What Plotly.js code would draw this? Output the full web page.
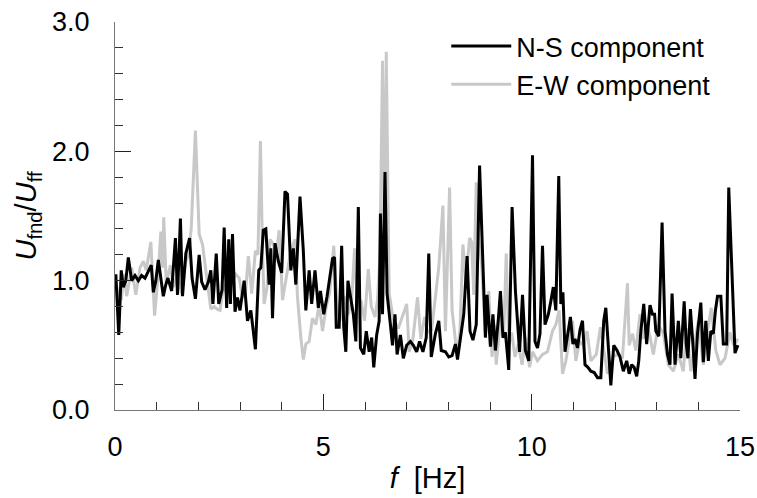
<!DOCTYPE html>
<html>
<head>
<meta charset="utf-8">
<script src="https://cdn.plot.ly/plotly-3.0.1.min.js"></script>
<style>html,body{margin:0;padding:0;background:#fff;}#chart{width:757px;height:498px;}</style>
</head>
<body>
<div id="chart"></div>
<script>
// N-S component
const nsFreq = [0.02,0.09,0.15,0.2,0.26,0.32,0.4,0.48,0.56,0.64,0.72,0.8,0.87,0.92,0.98,1.04,1.1,1.16,1.22,1.27,1.36,1.45,1.5,1.57,1.62,1.7,1.79,1.85,1.93,2.02,2.08,2.16,2.24,2.3,2.35,2.43,2.49,2.57,2.62,2.68,2.73,2.77,2.82,2.88,2.94,3.0,3.1,3.18,3.26,3.37,3.45,3.5,3.56,3.62,3.7,3.74,3.78,3.84,3.92,4.0,4.08,4.14,4.22,4.28,4.34,4.44,4.52,4.58,4.66,4.72,4.8,4.88,4.93,5.01,5.09,5.22,5.27,5.31,5.38,5.44,5.49,5.54,5.59,5.66,5.72,5.78,5.84,5.89,5.97,6.03,6.1,6.16,6.21,6.28,6.34,6.37,6.42,6.48,6.53,6.6,6.66,6.72,6.77,6.85,6.92,7.0,7.09,7.16,7.24,7.31,7.39,7.47,7.53,7.59,7.69,7.77,7.83,7.93,8.01,8.09,8.17,8.22,8.31,8.37,8.45,8.52,8.59,8.67,8.75,8.83,8.89,8.93,9.01,9.07,9.13,9.2,9.25,9.31,9.37,9.45,9.53,9.61,9.71,9.78,9.85,9.93,10.02,10.08,10.14,10.2,10.26,10.32,10.4,10.46,10.52,10.58,10.65,10.7,10.75,10.8,10.87,10.93,10.99,11.04,11.1,11.16,11.22,11.28,11.35,11.42,11.5,11.58,11.66,11.73,11.78,11.84,11.9,11.97,12.05,12.12,12.2,12.28,12.34,12.4,12.46,12.52,12.57,12.62,12.69,12.76,12.84,12.9,12.95,12.98,13.05,13.13,13.2,13.26,13.32,13.37,13.44,13.52,13.58,13.66,13.71,13.75,13.81,13.87,13.92,13.98,14.06,14.12,14.18,14.24,14.3,14.36,14.41,14.46,14.54,14.6,14.68,14.73,14.8,14.88,14.95];
const nsRatio = [1.05,0.58,1.08,0.95,1.0,1.18,1.0,1.04,1.0,1.04,1.02,1.08,1.12,0.91,1.0,1.16,1.0,0.88,0.97,1.02,0.92,1.33,0.89,1.48,0.88,1.21,1.33,1.02,0.86,1.2,0.99,0.93,0.99,1.08,0.82,1.21,0.82,0.93,1.41,0.79,1.32,0.82,1.36,0.76,0.87,0.77,1.0,0.69,0.77,0.47,1.08,1.1,1.39,1.4,0.97,1.25,0.71,1.29,1.15,1.06,1.69,1.67,1.08,1.25,0.97,1.65,1.23,0.77,1.08,0.82,1.08,0.79,0.92,0.74,0.88,1.17,1.18,0.64,0.64,1.27,0.64,0.45,1.0,0.85,0.74,0.53,1.57,0.48,0.43,0.61,0.45,0.56,0.33,0.58,0.69,1.52,0.74,1.84,0.9,0.69,0.5,0.74,0.43,0.58,0.4,0.5,0.53,0.5,0.45,0.53,0.45,0.56,1.21,0.41,0.59,0.69,0.46,0.45,0.41,0.42,0.51,0.39,0.61,0.74,1.19,0.61,0.54,0.66,1.89,1.18,0.56,0.89,0.49,0.74,0.46,0.7,0.92,0.56,0.6,0.31,1.57,0.92,0.45,0.89,0.46,0.38,1.97,0.53,0.48,0.59,1.27,0.66,0.74,0.84,0.95,0.77,1.81,0.82,0.91,0.45,0.59,0.72,0.51,0.55,0.48,0.62,0.69,0.35,0.33,0.3,0.29,0.25,0.25,0.69,0.79,0.48,0.19,0.5,0.46,0.41,0.3,0.38,0.28,0.35,0.33,0.26,0.38,0.61,0.82,0.51,0.81,0.74,0.74,0.61,0.57,1.45,0.61,0.43,0.35,0.9,0.35,0.69,0.4,0.84,0.51,0.4,0.78,0.51,0.24,0.59,0.83,0.37,0.69,0.38,0.61,0.59,0.77,0.88,0.88,0.51,0.51,1.72,1.08,0.44,0.5];

// E-W component
const ewFreq = [0.02,0.08,0.15,0.22,0.28,0.35,0.4,0.5,0.6,0.68,0.75,0.86,0.95,1.03,1.1,1.14,1.17,1.23,1.33,1.4,1.5,1.6,1.7,1.77,1.83,1.93,2.02,2.1,2.2,2.3,2.38,2.45,2.52,2.58,2.66,2.75,2.82,2.9,2.98,3.06,3.13,3.2,3.28,3.37,3.43,3.49,3.54,3.58,3.65,3.72,3.8,3.87,3.94,4.02,4.14,4.22,4.32,4.38,4.46,4.52,4.58,4.66,4.74,4.82,4.9,4.98,5.07,5.15,5.25,5.32,5.4,5.5,5.6,5.68,5.75,5.82,5.9,5.99,6.08,6.15,6.24,6.3,6.36,6.42,6.47,6.51,6.58,6.68,6.8,6.9,7.0,7.06,7.15,7.26,7.34,7.43,7.5,7.6,7.69,7.77,7.87,7.93,8.03,8.09,8.15,8.21,8.28,8.35,8.42,8.51,8.56,8.61,8.67,8.72,8.8,8.89,8.97,9.05,9.1,9.15,9.27,9.33,9.39,9.45,9.52,9.6,9.68,9.77,9.85,9.95,10.02,10.14,10.26,10.38,10.5,10.58,10.66,10.74,10.82,10.9,10.98,11.06,11.15,11.25,11.33,11.42,11.55,11.65,11.73,11.82,11.95,12.05,12.18,12.3,12.34,12.42,12.5,12.6,12.68,12.76,12.84,12.92,13.04,13.16,13.28,13.4,13.52,13.64,13.72,13.82,13.92,14.0,14.12,14.22,14.31,14.42,14.52,14.64,14.76,14.85,14.95];
const ewRatio = [0.98,0.9,0.85,1.05,0.88,1.0,1.1,0.89,1.1,1.15,1.08,1.3,0.73,1.02,1.38,1.1,1.49,0.98,1.12,0.95,1.05,0.9,1.15,1.2,1.41,2.16,1.36,1.28,1.02,0.78,0.8,0.78,0.77,0.9,0.97,0.93,1.0,1.05,1.02,0.87,0.9,1.19,0.9,1.23,1.2,2.08,1.23,0.82,0.95,1.32,1.28,1.2,1.39,0.85,1.08,1.23,1.32,0.87,0.56,0.39,0.51,0.53,0.71,0.66,0.82,0.61,0.8,0.9,1.27,0.85,0.69,0.88,0.74,0.85,1.25,0.8,0.85,0.69,1.09,0.8,0.72,0.85,1.2,2.7,1.3,2.77,0.9,0.7,0.63,0.72,0.82,0.45,0.55,0.87,0.55,0.72,0.6,0.62,0.87,1.1,1.58,0.61,1.72,0.77,0.6,0.41,0.62,1.28,1.0,1.33,1.3,0.89,1.76,1.35,1.13,0.56,0.92,0.41,0.66,0.35,0.77,0.6,1.21,0.5,0.6,0.41,0.51,0.35,0.56,0.33,0.45,0.38,0.43,0.45,0.61,0.66,0.77,0.28,0.38,0.53,0.69,0.38,0.53,0.5,0.61,0.38,0.43,0.64,0.48,0.28,0.41,0.43,0.41,0.98,0.5,0.59,0.46,0.74,0.55,0.66,0.57,0.43,0.66,0.59,0.35,0.3,0.43,0.3,0.63,0.3,0.53,0.69,0.35,0.61,0.79,0.46,0.35,0.4,0.6,0.5,0.55];

const seriesNames = ['N-S component', 'E-W component'];
const xTickVals = [0, 5, 10, 15];
const yTickVals = [0, 1, 2, 3];

const FONT = 'Liberation Sans, Arial, sans-serif';

const traces = [
  {x: ewFreq, y: ewRatio, type: 'scatter', mode: 'lines', name: seriesNames[1],
   line: {color: '#c8c8c8', width: 3}, legendrank: 2},
  {x: nsFreq, y: nsRatio, type: 'scatter', mode: 'lines', name: seriesNames[0],
   line: {color: '#000000', width: 3}, legendrank: 1}
];

const layout = {
  width: 757, height: 498,
  margin: {l: 115, r: 17, t: 22, b: 88},
  paper_bgcolor: '#fff', plot_bgcolor: '#fff',
  font: {family: FONT, color: '#000', size: 27},
  showlegend: true,
  legend: {x: 0.53, y: 1.0, xanchor: 'left', yanchor: 'top', bgcolor: 'rgba(0,0,0,0)',
           font: {family: FONT, size: 27, color: '#000'}, itemwidth: 60, tracegroupgap: 0},
  xaxis: {
    range: [0, 15], tickvals: xTickVals, ticktext: xTickVals.map(String),
    ticks: 'inside', ticklen: 16, tickwidth: 1.2, tickcolor: '#222',
    minor: {dtick: 1, ticks: 'inside', ticklen: 8, tickwidth: 1, tickcolor: '#333'},
    showline: true, linecolor: '#777', linewidth: 1, showgrid: false, zeroline: false,
    tickfont: {family: FONT, size: 27, color: '#000'}, ticklabelstandoff: 13,
    title: {text: '<i>f</i>  [Hz]', font: {family: FONT, size: 29, color: '#000'}, standoff: 6}
  },
  yaxis: {
    range: [0, 3], tickvals: yTickVals, ticktext: yTickVals.map(v => v.toFixed(1)),
    ticks: 'inside', ticklen: 16, tickwidth: 1.2, tickcolor: '#222',
    minor: {dtick: 0.2, ticks: 'inside', ticklen: 8, tickwidth: 1, tickcolor: '#333'},
    showline: true, linecolor: '#777', linewidth: 1, showgrid: false, zeroline: false,
    tickfont: {family: FONT, size: 27, color: '#000'}, ticklabelstandoff: 19,
    title: {text: '<i>U</i><sub>fnd</sub>/<i>U</i><sub>ff</sub>', font: {family: FONT, size: 29, color: '#000'}, standoff: 6}
  }
};

Plotly.newPlot('chart', traces, layout, {displayModeBar: false, staticPlot: true});
</script>
</body>
</html>
